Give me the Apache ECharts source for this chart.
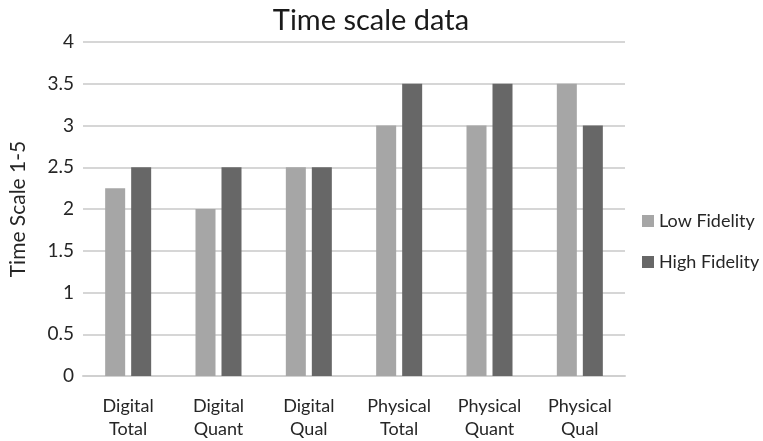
<!DOCTYPE html>
<html>
<head>
<meta charset="utf-8">
<script src="https://cdn.jsdelivr.net/npm/echarts@6/dist/echarts.min.js"></script>
<style>
  html, body { margin: 0; padding: 0; background: #fff; }
  #chart { width: 763px; height: 441px; }
</style>
</head>
<body>
<div id="chart"></div>
<script>
const categories = ['Digital\nTotal', 'Digital\nQuant', 'Digital\nQual', 'Physical\nTotal', 'Physical\nQuant', 'Physical\nQual'];
const lowFidelity = [2.25, 2, 2.5, 3, 3, 3.5];
const highFidelity = [2.5, 2.5, 2.5, 3.5, 3.5, 3];
const yTicks = [0, 0.5, 1, 1.5, 2, 2.5, 3, 3.5, 4];

const FONT = 'Lato, "Open Sans", sans-serif';
const chart = echarts.init(document.getElementById('chart'), null, { renderer: 'canvas' });

chart.setOption({
  animation: false,
  backgroundColor: '#ffffff',
  title: {
    text: 'Time scale data',
    left: 366,
    textAlign: 'center',
    top: 1,
    textStyle: { fontFamily: FONT, fontSize: 29, fontWeight: 'normal', color: '#1a1a1a' }
  },
  legend: {
    orient: 'vertical',
    left: 637,
    top: 207,
    itemGap: 23,
    itemWidth: 12,
    itemHeight: 12,
    icon: 'rect',
    textStyle: { fontFamily: FONT, fontSize: 18, color: '#262626' },
    data: ['Low Fidelity', 'High Fidelity']
  },
  grid: { left: 83, right: 138, top: 42, bottom: 63 },
  xAxis: {
    type: 'category',
    data: categories,
    axisLine: { lineStyle: { color: '#d0d0d0', width: 2 } },
    axisTick: { show: false },
    axisLabel: {
      interval: 0,
      margin: 19,
      lineHeight: 23,
      fontFamily: FONT,
      fontSize: 18,
      color: '#262626'
    }
  },
  yAxis: {
    type: 'value',
    min: yTicks[0],
    max: yTicks[yTicks.length - 1],
    interval: 0.5,
    name: 'Time Scale 1-5',
    nameLocation: 'middle',
    nameGap: 54,
    nameTextStyle: { fontFamily: FONT, fontSize: 21, color: '#262626' },
    axisLine: { show: false },
    axisTick: { show: false },
    splitLine: { lineStyle: { color: '#d6d6d6', width: 2 } },
    axisLabel: {
      margin: 9,
      fontFamily: FONT,
      fontSize: 19,
      color: '#262626'
    }
  },
  series: [
    {
      name: 'Low Fidelity',
      type: 'bar',
      data: lowFidelity,
      barWidth: 20,
      barGap: '30%',
      itemStyle: { color: '#a6a6a6' }
    },
    {
      name: 'High Fidelity',
      type: 'bar',
      data: highFidelity,
      barWidth: 20,
      itemStyle: { color: '#676767' }
    }
  ]
});
</script>
</body>
</html>
